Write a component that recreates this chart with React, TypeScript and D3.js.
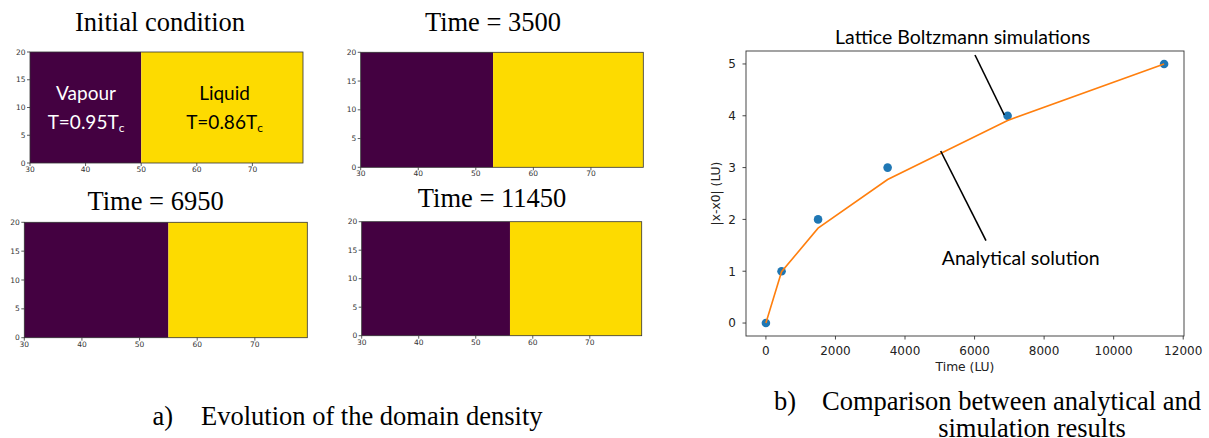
import React from "react";
import * as d3 from "d3";

// ---------- data ----------
const panelTitles = ["Initial condition", "Time = 3500", "Time = 6950", "Time = 11450"];
const interfacePositions = [50, 53, 55, 56];
const heatDomainX = [30, 79.1];
const heatDomainY = [0, 20];
const heatXTicks = [30, 40, 50, 60, 70];
const heatYTicks = [0, 5, 10, 15, 20];

const simTimes = [0, 450, 1500, 3500, 6950, 11450];
const simValues = [0, 1, 2, 3, 4, 5];
const analyticTimes = [0, 450, 1500, 3500, 6950, 11450];
const analyticValues = [0, 0.99, 1.83, 2.77, 3.91, 5.0];
const lineXTicks = [0, 2000, 4000, 6000, 8000, 10000, 12000];
const lineYTicks = [0, 1, 2, 3, 4, 5];

// ---------- layout ----------
const W = 1209;
const H = 438;
const panelBoxes = [
  { x0: 30, x1: 303, y0: 52, y1: 163, tx: 160, ty: 31 },
  { x0: 360.7, x1: 643.3, y0: 52.3, y1: 167.3, tx: 493, ty: 31 },
  { x0: 24.3, x1: 307.3, y0: 222.3, y1: 337.7, tx: 155.6, ty: 210 },
  { x0: 361.7, x1: 641.7, y0: 221.7, y1: 335.7, tx: 492, ty: 207 },
];
const PURPLE = "#440141";
const YELLOW = "#fddb00";
const SERIF = "'Liberation Serif', 'Times New Roman', serif";
const SANS = "'DejaVu Sans', sans-serif";
const CAL = "Lato, 'Open Sans', sans-serif";

function HeatPanel({ i }: { i: number }) {
  const b = panelBoxes[i];
  const x = d3.scaleLinear().domain(heatDomainX).range([b.x0, b.x1]);
  const y = d3.scaleLinear().domain(heatDomainY).range([b.y1, b.y0]);
  const xi = x(interfacePositions[i]);
  return (
    <g>
      <text x={b.tx} y={b.ty} textAnchor="middle" fontFamily={SERIF} fontSize={26.5} fill="#000">
        {panelTitles[i]}
      </text>
      <rect x={b.x0} y={b.y0} width={xi - b.x0} height={b.y1 - b.y0} fill={PURPLE} />
      <rect x={xi} y={b.y0} width={b.x1 - xi} height={b.y1 - b.y0} fill={YELLOW} />
      <rect x={b.x0} y={b.y0} width={b.x1 - b.x0} height={b.y1 - b.y0} fill="none" stroke="#333" strokeWidth={0.8} />
      {heatXTicks.map((t) => (
        <g key={"x" + t}>
          <line x1={x(t)} x2={x(t)} y1={b.y1} y2={b.y1 + 3} stroke="#333" strokeWidth={0.8} />
          <text x={x(t)} y={b.y1 + 9} textAnchor="middle" fontFamily={SANS} fontSize={7.5} fill="#333">
            {t}
          </text>
        </g>
      ))}
      {heatYTicks.map((t) => (
        <g key={"y" + t}>
          <line x1={b.x0 - 3} x2={b.x0} y1={y(t)} y2={y(t)} stroke="#333" strokeWidth={0.8} />
          <text x={b.x0 - 4.5} y={y(t)} dy="0.35em" textAnchor="end" fontFamily={SANS} fontSize={7.5} fill="#333">
            {t}
          </text>
        </g>
      ))}
    </g>
  );
}

function TempLabel({ cx, y, value, fill }: { cx: number; y: number; value: string; fill: string }) {
  return (
    <text x={cx} y={y} textAnchor="middle" fontFamily={CAL} fontSize={19} fill={fill}>
      {"T=" + value + "T"}
      <tspan fontSize={12} dy={3}>c</tspan>
    </text>
  );
}

function LinePanel() {
  const L = 746, R = 1184, T = 51, B = 336;
  const x = d3.scaleLinear().domain([-572.5, 12022.5]).range([L, R]);
  const y = d3.scaleLinear().domain([-0.25, 5.25]).range([B, T]);
  const pts = analyticTimes.map((t, k) => [t, analyticValues[k]] as [number, number]);
  const path = d3
    .line<[number, number]>()
    .x((d) => x(d[0]))
    .y((d) => y(d[1]))(pts) as string;
  return (
    <g>
      {simTimes.map((t, k) => (
        <circle key={k} cx={x(t)} cy={y(simValues[k])} r={4.3} fill="#1f77b4" />
      ))}
      <path d={path} fill="none" stroke="#ff7f0e" strokeWidth={1.6} />
      <rect x={L} y={T} width={R - L} height={B - T} fill="none" stroke="#333" strokeWidth={0.9} />
      {lineXTicks.map((t) => (
        <g key={"x" + t}>
          <line x1={x(t)} x2={x(t)} y1={B} y2={B + 3.5} stroke="#333" strokeWidth={0.9} />
          <text x={x(t)} y={355} textAnchor="middle" fontFamily={SANS} fontSize={12} fill="#222">
            {t}
          </text>
        </g>
      ))}
      {lineYTicks.map((t) => (
        <g key={"y" + t}>
          <line x1={L - 3.5} x2={L} y1={y(t)} y2={y(t)} stroke="#333" strokeWidth={0.9} />
          <text x={736} y={y(t)} dy="0.36em" textAnchor="end" fontFamily={SANS} fontSize={12} fill="#222">
            {t}
          </text>
        </g>
      ))}
      <text x={(L + R) / 2} y={371} textAnchor="middle" fontFamily={SANS} fontSize={12.3} fill="#222">
        Time (LU)
      </text>
      <text transform={`translate(720,${(T + B) / 2}) rotate(-90)`} textAnchor="middle" fontFamily={SANS} fontSize={12.3} fill="#222">
        |x-x0| (LU)
      </text>
      {/* annotations */}
      <text x={962.7} y={44} textAnchor="middle" fontFamily={CAL} fontSize={19.5} fill="#000">
        Lattice Boltzmann simulations
      </text>
      <line x1={975} y1={55} x2={1004.3} y2={115} stroke="#000" strokeWidth={1.6} />
      <line x1={940.7} y1={151} x2={986} y2={240.7} stroke="#000" strokeWidth={1.6} />
      <text x={1020.7} y={265} textAnchor="middle" fontFamily={CAL} fontSize={19.5} fill="#000">
        Analytical solution
      </text>
    </g>
  );
}

export default function App() {
  return (
    <div style={{ position: "absolute", left: 0, top: 0 }}>
      <svg width={W} height={H} viewBox={`0 0 ${W} ${H}`} style={{ display: "block", background: "#fff" }}>
        {panelTitles.map((_, i) => (
          <HeatPanel key={i} i={i} />
        ))}
        <text x={86} y={100} textAnchor="middle" fontFamily={CAL} fontSize={19} fill="#fff">
          Vapour
        </text>
        <TempLabel cx={86} y={129} value="0.95" fill="#fff" />
        <text x={224.5} y={100} textAnchor="middle" fontFamily={CAL} fontSize={19} fill="#000">
          Liquid
        </text>
        <TempLabel cx={224.5} y={129} value="0.86" fill="#000" />
        <LinePanel />
        <text x={152.5} y={425} fontFamily={SERIF} fontSize={26.5} fill="#000">
          a)
        </text>
        <text x={201} y={425} fontFamily={SERIF} fontSize={26.5} fill="#000">
          Evolution of the domain density
        </text>
        <text x={774} y={410} fontFamily={SERIF} fontSize={26.5} fill="#000">
          b)
        </text>
        <text x={822} y={410} fontFamily={SERIF} fontSize={26.5} fill="#000">
          Comparison between analytical and
        </text>
        <text x={1032} y={437} textAnchor="middle" fontFamily={SERIF} fontSize={26.5} fill="#000">
          simulation results
        </text>
      </svg>
    </div>
  );
}
